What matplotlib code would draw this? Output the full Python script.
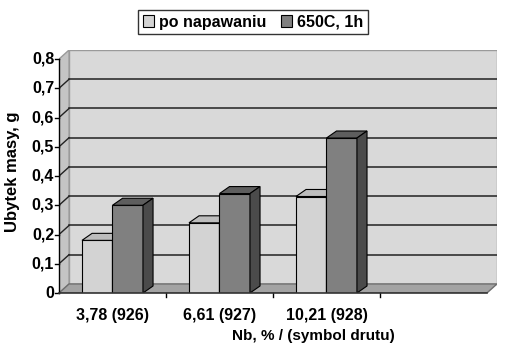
import numpy as np
import matplotlib
matplotlib.use("Agg")
import matplotlib.pyplot as plt
from matplotlib.patches import Polygon, Patch

plt.rcParams['font.family'] = ['Liberation Sans', 'DejaVu Sans']
plt.rcParams['font.weight'] = 'bold'

# data
categories = ["3,78 (926)", "6,61 (927)", "10,21 (928)", ""]
po_napawaniu = [0.18, 0.24, 0.33]
po_650C = [0.30, 0.34, 0.53]
series_names = ["po napawaniu", "650C, 1h"]
yticks = [0, 0.1, 0.2, 0.3, 0.4, 0.5, 0.6, 0.7, 0.8]
ytick_labels = ["0", "0,1", "0,2", "0,3", "0,4", "0,5", "0,6", "0,7", "0,8"]

# 3d look
wall_dx, wall_dy = 0.094, 0.031
bar_dx, bar_dy = 0.094, 0.024
bar_w = 0.285
ymax = 0.8

fig = plt.figure(figsize=(5.07, 3.55), dpi=100)
ax = fig.add_axes([59/507, 62/355, 438/507, 243/355])
ax.set_xlim(0, len(categories) + wall_dx)
ax.set_ylim(0, ymax + wall_dy)
ax.axis('off')
n = len(categories)

# back wall, side wall, floor
ax.add_patch(Polygon([(wall_dx, wall_dy), (n + wall_dx, wall_dy), (n + wall_dx, ymax + wall_dy),
                      (wall_dx, ymax + wall_dy)], closed=True, fc='#d9d9d9', ec='#9a9a9a', lw=1, zorder=1))
ax.add_patch(Polygon([(0, 0), (wall_dx, wall_dy), (wall_dx, ymax + wall_dy), (0, ymax)],
                     closed=True, fc='#c4c4c4', ec='#9a9a9a', lw=1, zorder=1))
ax.add_patch(Polygon([(0, 0), (n, 0), (n + wall_dx, wall_dy), (wall_dx, wall_dy)],
                     closed=True, fc='#a3a3a3', ec='#6e6e6e', lw=1, zorder=2))

# gridlines on back and side wall
for t in yticks[1:-1]:
    ax.plot([wall_dx, n + wall_dx], [t + wall_dy, t + wall_dy], color='#222222', lw=1.1, zorder=2)
    ax.plot([0, wall_dx], [t, t + wall_dy], color='#222222', lw=1.0, zorder=2)

# front axes
ax.plot([0, 0], [0, ymax], color='black', lw=1, zorder=6, clip_on=False)
ax.plot([0, n], [0, 0], color='#333333', lw=1.2, zorder=6, clip_on=False)
for t, lab in zip(yticks, ytick_labels):
    ax.plot([-0.035, 0], [t, t], color='black', lw=1, clip_on=False)
    ax.text(-0.045, t, lab, ha='right', va='center', fontsize=11.5, fontweight='bold')
for i in range(1, n):
    ax.plot([i, i], [0, -0.012], color='black', lw=1, clip_on=False)
for i, lab in enumerate(categories):
    ax.text(i + 0.5, -0.05, lab, ha='center', va='top', fontsize=11.5, fontweight='bold')


def draw_bar(x0, h, front, top, side, z):
    ax.bar(x0, h, width=bar_w, align='edge', color=front, edgecolor='black', lw=0.8, zorder=z)
    ax.add_patch(Polygon([(x0, h), (x0 + bar_w, h), (x0 + bar_w + bar_dx, h + bar_dy), (x0 + bar_dx, h + bar_dy)],
                         closed=True, fc=top, ec='black', lw=0.8, zorder=z))
    ax.add_patch(Polygon([(x0 + bar_w, 0), (x0 + bar_w + bar_dx, bar_dy), (x0 + bar_w + bar_dx, h + bar_dy),
                          (x0 + bar_w, h)], closed=True, fc=side, ec='black', lw=0.8, zorder=z))


for i in range(len(po_napawaniu)):
    c = i + 0.5
    draw_bar(c - bar_w, po_napawaniu[i], '#d3d3d3', '#bdbdbd', '#9c9c9c', 4)
    draw_bar(c, po_650C[i], '#808080', '#5e5e5e', '#4b4b4b', 5)

fig.text(13/507, 1 - 172/355, "Ubytek masy, g", rotation=90, ha='center', va='center', fontsize=12,
         fontweight='bold')
fig.text(313/507, 1 - 336/355, "Nb, % / (symbol drutu)", ha='center', va='center', fontsize=11,
         fontweight='bold')

handles = [Patch(fc='#d3d3d3', ec='black', lw=0.8), Patch(fc='#808080', ec='black', lw=0.8)]
leg = fig.legend(handles, series_names, loc='center', bbox_to_anchor=(253/507, 1 - 22/355), ncol=2,
                 frameon=True, fancybox=False, edgecolor='black',
                 handlelength=0.7, handleheight=0.7, handletextpad=0.3, columnspacing=0.9,
                 borderpad=0.3, prop={'weight': 'bold', 'size': 11.5})
leg.get_frame().set_linewidth(1.0)

fig.savefig("out.png", dpi=100, facecolor='white')
